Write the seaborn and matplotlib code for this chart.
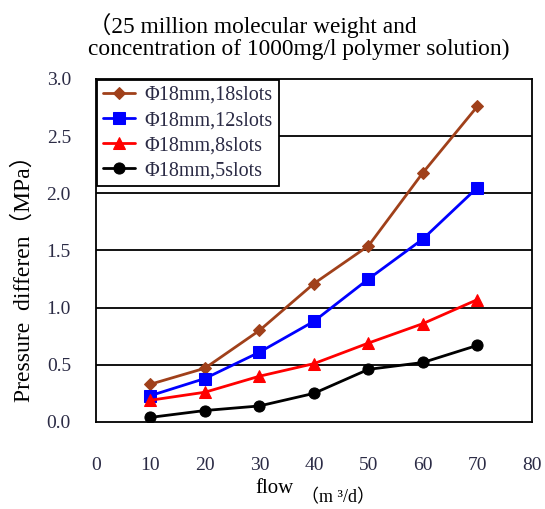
import matplotlib
matplotlib.use("Agg")
import matplotlib.pyplot as plt
import seaborn as sns
import pandas as pd

flow = [10, 20, 30, 40, 50, 60, 70]
s18 = [0.33, 0.47, 0.80, 1.21, 1.54, 2.18, 2.76]
s12 = [0.23, 0.38, 0.61, 0.88, 1.25, 1.60, 2.05]
s8 = [0.19, 0.26, 0.40, 0.51, 0.69, 0.86, 1.07]
s5 = [0.04, 0.10, 0.14, 0.25, 0.46, 0.52, 0.67]
labels = ["Φ18mm,18slots", "Φ18mm,12slots", "Φ18mm,8slots", "Φ18mm,5slots"]
series = [s18, s12, s8, s5]
colors = ["#A0401A", "#0000FF", "#FF0000", "#000000"]
markers = ["D", "s", "^", "o"]
msizes = [6, 8, 8, 8]

rows = []
for lab, vals in zip(labels, series):
    for x, y in zip(flow, vals):
        rows.append({"flow": x, "p": y, "series": lab})
df = pd.DataFrame(rows)

sns.set_style("white")
plt.rcParams['font.family'] = ['Liberation Serif', 'Noto Sans CJK SC', 'DejaVu Sans']
tc = "#2b2b45"

fig = plt.figure(figsize=(5.45, 5.09), dpi=100)
ax = fig.add_axes([0.176, 0.171, 0.800, 0.674])

for lab, c, m, ms in zip(labels, colors, markers, msizes):
    sub = df[df["series"] == lab]
    sns.lineplot(data=sub, x="flow", y="p", color=c, marker=m, markersize=ms,
                 markeredgecolor=c, linewidth=2, label=lab, ax=ax)

ax.set_xlim(0, 80)
ax.set_ylim(0, 3.0)
ax.set_xticks(range(0, 81, 10))
ax.set_yticks([0, 0.5, 1.0, 1.5, 2.0, 2.5, 3.0])
ax.set_yticklabels(["0.0", "0.5", "1.0", "1.5", "2.0", "2.5", "3.0"])
for yv in [0.5, 1.0, 1.5, 2.0, 2.5]:
    ax.axhline(yv, color="black", linewidth=1.3, zorder=0)
for s in ax.spines.values():
    s.set_color("black")
    s.set_linewidth(1.3)
ax.tick_params(axis="x", direction="in", length=6, width=1, colors="black",
               labelcolor=tc, labelsize=14, pad=25)
ax.tick_params(axis="y", direction="in", length=0, labelcolor=tc, labelsize=14, pad=18)

ax.set_xlabel("flow", fontsize=15, color="black", labelpad=4)
ax.xaxis.set_label_coords(0.41, -0.165, transform=ax.transAxes)
ax.text(0.47, -0.22, "（m ³/d）", transform=ax.transAxes, fontsize=13,
        color="black", ha="left", va="center")
ax.set_ylabel("Pressure  differen（MPa）", fontsize=17, color="black")
ax.yaxis.set_label_coords(-0.14, 0.435, transform=ax.transAxes)

leg = ax.legend(loc="upper left", borderaxespad=0.05, fancybox=False, framealpha=1,
                edgecolor="black", fontsize=14.5, handlelength=1.6, labelspacing=0.3,
                borderpad=0.3, handletextpad=0.45)
leg.get_frame().set_linewidth(1.3)
for t in leg.get_texts():
    t.set_color(tc)

fig.text(0.161, 0.928, "（25 million molecular weight and\nconcentration of 1000mg/l polymer solution)",
         fontsize=16.8, color="black", ha="left", va="center", linespacing=1.05)

fig.savefig("out.png", dpi=100)
